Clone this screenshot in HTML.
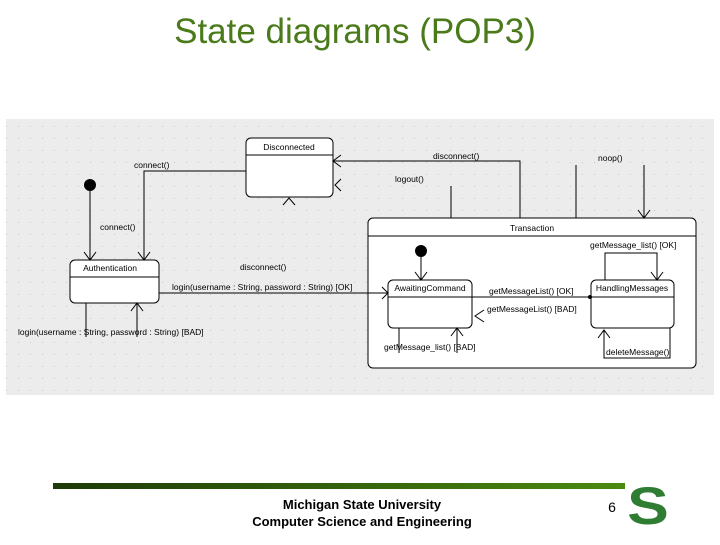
<!DOCTYPE html>
<html><head><meta charset="utf-8"><style>
body{margin:0;width:720px;height:540px;background:#fff;overflow:hidden;font-family:"Liberation Sans",sans-serif}
</style></head><body>
<svg width="720" height="540" xmlns="http://www.w3.org/2000/svg" font-family="Liberation Sans, sans-serif">
<defs>
<pattern id="dots" width="12" height="12" patternUnits="userSpaceOnUse"><rect width="12" height="12" fill="#ececec"/><rect x="6" y="6" width="1" height="1" fill="#c8c8c8"/></pattern>
</defs>
<text x="355" y="43" font-size="35" fill="#4a7a1a" text-anchor="middle">State diagrams (POP3)</text>
<rect x="6" y="119" width="708" height="276" fill="url(#dots)"/>
<g stroke="#000" stroke-width="1" fill="none">
<rect x="246" y="138" width="87" height="59" rx="5" fill="#fff"/><line x1="246" y1="155" x2="333" y2="155"/>
<rect x="70" y="260" width="89" height="43" rx="5" fill="#fff"/><line x1="70" y1="277" x2="159" y2="277"/>
<rect x="368" y="218" width="328" height="150" rx="5" fill="#fff"/><line x1="368" y1="236" x2="696" y2="236"/>
<rect x="388" y="280" width="84" height="48" rx="5" fill="#fff"/><line x1="388" y1="297" x2="472" y2="297"/>
<rect x="591" y="280" width="83" height="48" rx="5" fill="#fff"/><line x1="591" y1="297" x2="674" y2="297"/>
<polyline points="246,171 144,171 144,260"/>
<line x1="90" y1="185" x2="90" y2="260"/>
<line x1="159" y1="293" x2="388" y2="293"/>
<line x1="86" y1="303" x2="86" y2="337"/><line x1="137" y1="337" x2="137" y2="303"/>
<polyline points="333,161 520,161 520,218"/>
<line x1="451" y1="186" x2="451" y2="218"/>
<line x1="576" y1="165" x2="576" y2="218"/><line x1="644" y1="165" x2="644" y2="218"/>
<line x1="421" y1="251" x2="421" y2="280"/>
<line x1="472" y1="297" x2="591" y2="297"/>
<polyline points="605,280 605,253 657,253 657,280"/>
<line x1="399" y1="328" x2="399" y2="353"/><line x1="457" y1="353" x2="457" y2="328"/>
<polyline points="604,330 604,358 670,358 670,328"/>
<polyline points="84,252 90,260 96,252"/><polyline points="138,252 144,260 150,252"/>
<polyline points="131,311 137,303 143,311"/>
<polyline points="341,155 333,161 341,167"/><polyline points="341,179 335,185 341,191"/>
<polyline points="283,205 289,198 295,205"/>
<polyline points="382,287 388,293 382,299"/>
<polyline points="638,210 644,218 650,210"/>
<polyline points="415,272 421,280 427,272"/>
<polyline points="651,272 657,280 663,272"/>
<polyline points="484,310 475,316 484,322"/>
<polyline points="451,336 457,328 463,336"/>
<polyline points="598,338 604,330 610,338"/>
</g>
<circle cx="90" cy="185" r="6" fill="#000"/><circle cx="421" cy="251" r="6" fill="#000"/>
<circle cx="590" cy="297" r="2" fill="#000"/>
<g font-size="8.5" fill="#000">
<text x="289" y="150" text-anchor="middle">Disconnected</text>
<text x="110" y="271" text-anchor="middle">Authentication</text>
<text x="532" y="231" text-anchor="middle">Transaction</text>
<text x="430" y="291" text-anchor="middle">AwaitingCommand</text>
<text x="632" y="291" text-anchor="middle">HandlingMessages</text>
<text x="134" y="168">connect()</text>
<text x="100" y="230">connect()</text>
<text x="240" y="270">disconnect()</text>
<text x="172" y="290">login(username : String, password : String) [OK]</text>
<text x="18" y="335">login(username : String, password : String) [BAD]</text>
<text x="433" y="159">disconnect()</text>
<text x="395" y="182">logout()</text>
<text x="598" y="161">noop()</text>
<text x="590" y="248">getMessage_list() [OK]</text>
<text x="489" y="294">getMessageList() [OK]</text>
<text x="487" y="312">getMessageList() [BAD]</text>
<text x="384" y="350">getMessage_list() [BAD]</text>
<text x="606" y="355">deleteMessage()</text>
</g>
<defs><linearGradient id="bar" x1="0" x2="1"><stop offset="0" stop-color="#1e3a08"/><stop offset="1" stop-color="#4a8a10"/></linearGradient></defs>
<rect x="53" y="483" width="572" height="6" fill="url(#bar)"/>
<text x="362" y="509" font-size="13" font-weight="bold" text-anchor="middle">Michigan State University</text>
<text x="362" y="526" font-size="13" font-weight="bold" text-anchor="middle">Computer Science and Engineering</text>
<text x="612" y="512" font-size="14" text-anchor="middle">6</text>
<text x="0" y="0" font-size="50" font-weight="bold" fill="#2e7d32" text-anchor="middle" transform="translate(648,524) scale(1.25,1.05)">S</text>
</svg>
</body></html>
